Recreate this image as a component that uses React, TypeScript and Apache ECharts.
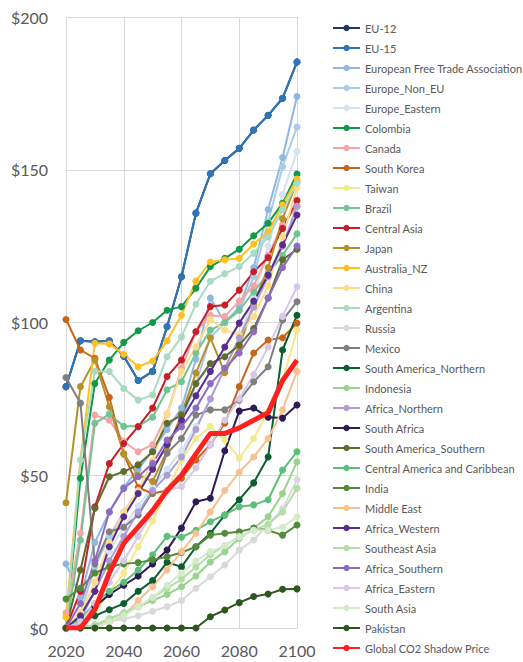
import React, { useEffect, useRef } from "react";
import * as echarts from "echarts";

const years = [2020, 2025, 2030, 2035, 2040, 2045, 2050, 2055, 2060, 2065, 2070, 2075, 2080, 2085, 2090, 2095, 2100];

const names = [
  "EU-12", "EU-15", "European Free Trade Association", "Europe_Non_EU", "Europe_Eastern",
  "Colombia", "Canada", "South Korea", "Taiwan", "Brazil", "Central Asia", "Japan",
  "Australia_NZ", "China", "Argentina", "Russia", "Mexico", "South America_Northern",
  "Indonesia", "Africa_Northern", "South Africa", "South America_Southern",
  "Central America and Caribbean", "India", "Middle East", "Africa_Western",
  "Southeast Asia", "Africa_Southern", "Africa_Eastern", "South Asia", "Pakistan",
  "Global CO2 Shadow Price",
];

const colors = [
  "#1F3864", "#2E75B6", "#8FB8E0", "#A9CBEA", "#D2E3F3",
  "#0E9A48", "#F4A6A6", "#C8651B", "#F2EB8C", "#72C493", "#C81E28", "#B8902A",
  "#FFC020", "#FFDD88", "#A8DCC0", "#D9D9D9", "#7F7F7F", "#0B5E2E",
  "#99D48E", "#B09CD4", "#2D1B55", "#5F6B2F",
  "#5CBF7A", "#548B3A", "#F9C090", "#5B2C8F",
  "#B4DDA8", "#8C6BC0", "#D8C8E8", "#D4EBCB", "#2F5620",
  "#FF2020",
];

const eu12 = [79, 94, 93.7, 94, 89, 81, 84, 98.6, 115, 135.8, 148.7, 153, 157, 163, 167.8, 173.4, 185.3];
const eu15 = [79, 94, 93.7, 94, 89, 81, 84, 98.6, 115, 135.8, 148.7, 153, 157, 163, 167.8, 173.4, 185.3];
const efta = [21, 10, 28, 38, 46, 52, 58, 65, 72, 88, 108, 100, 105, 118, 137, 154, 174];
const europeNonEu = [0, 5, 20, 30, 38, 45, 52, 60, 68, 80, 95, 100, 104, 115, 133, 151, 164];
const europeEastern = [0, 3, 15, 25, 33, 40, 46, 52, 58, 66, 75, 85, 95, 108, 125, 142, 156];
const colombia = [0, 49, 80, 87.7, 93.5, 97.3, 100, 104, 105.2, 111.2, 118.3, 121, 124, 128.4, 132.5, 139, 148.6];
const canada = [5, 31, 69.7, 68, 61, 57.7, 60, 70, 85, 97, 102.4, 102, 107, 112, 122, 132, 138];
const southKorea = [101, 91, 88.3, 75.5, 57, 46, 44, 45, 49, 55, 60, 67, 79, 90, 94.3, 95, 99.8];
const taiwan = [0, 2, 5, 12, 18, 26.6, 35, 45, 55, 62, 66, 61.5, 55.6, 62, 71, 81, 97.5];
const brazil = [0, 28.8, 67, 70, 66, 66, 69, 78, 80.6, 90, 97.5, 100, 104, 110, 116, 122, 129];
const centralAsia = [0, 12, 39.7, 53.8, 60.4, 65.9, 72, 82.3, 87.7, 97, 105.2, 105.7, 110.6, 116.6, 121.3, 130.8, 139.9];
const japan = [41, 79, 87.7, 72.4, 57, 50, 48, 58, 70, 83.5, 95, 83.6, 92, 106, 118, 134, 146];
const australiaNz = [3.5, 55, 93.2, 93, 89.6, 85.5, 87.4, 94, 102.4, 113.6, 119.8, 120.5, 121, 125.7, 129.7, 138.5, 147];
const china = [0, 5, 15, 28, 38, 45, 55, 70, 84, 92, 101, 97.5, 96, 102, 112, 128, 144];
const argentina = [0, 55, 84, 84, 78.4, 74.6, 76.3, 88.8, 95.3, 106, 113.5, 116, 118.3, 122.7, 128, 137, 145.6];
const russia = [0, 0, 1, 2, 3, 4, 5.5, 7, 9, 13, 16.8, 20.6, 25.5, 28.8, 34, 39, 48.5];
const mexico = [82, 73.6, 21, 31.5, 33, 37, 44.6, 57.2, 62, 69.7, 71.4, 71.4, 74.6, 80.6, 85.5, 100.8, 106.8];
const saNorthern = [0, 2, 4, 6, 8, 12, 15.5, 21.5, 20, 26.6, 31, 37, 42, 47.5, 56, 91, 102.4];
const indonesia = [0, 0, 1, 3, 5, 7, 9, 11, 13.5, 17, 21.6, 25, 29.3, 32.6, 36.4, 44, 54.4];
const africaNorthern = [0, 3, 12, 22, 30, 38, 45, 50, 56, 65, 75, 85, 95, 105, 115, 125, 138];
const southAfrica = [0, 3, 7, 11, 14, 17, 21, 25.5, 32.7, 41.3, 42.5, 58, 71, 72, 69, 68.7, 73];
const saSouthern = [0, 19, 39.2, 49.5, 51.2, 53.4, 57.7, 67, 69.7, 80, 86.6, 88.8, 92.6, 98, 108, 120.5, 124];
const cac = [0, 3, 8, 12, 15, 19, 24, 30, 29.7, 32, 34.8, 37, 39.7, 40.3, 42, 51.7, 57.7];
const india = [9.5, 13, 18, 20, 21, 21.4, 22.3, 23.3, 24.7, 26.6, 30.4, 31, 31.5, 32.7, 32, 30.4, 33.7];
const middleEast = [0, 0, 1, 2, 4, 9, 13.5, 19, 25, 31, 38, 45, 51, 56, 62, 71.4, 84];
const africaWestern = [0, 4, 12, 26.6, 36.4, 44, 52, 60, 68, 76, 84, 92, 99.8, 107, 115.5, 125.4, 135.2];
const southeastAsia = [0, 0, 1, 3, 5, 7, 10, 13, 16, 20, 24, 27, 30, 32, 34, 38, 45.7];
const africaSouthern = [0, 8, 22, 38, 45.7, 49.5, 53.9, 61.5, 65.9, 72, 80, 85, 90, 97, 108, 118, 125];
const africaEastern = [0, 2, 8, 15, 22, 30, 38, 45, 46.3, 52.4, 60, 68, 75, 83, 92, 102, 111.7];
const southAsia = [0, 0, 0, 2, 4, 7, 10, 14, 18, 22, 25, 27, 29.8, 32, 32, 33, 36.4];
const pakistan = [0, 0, 0, 0, 0, 0, 0, 0, 0, 0, 3.7, 5.9, 8.3, 10.3, 11.1, 12.7, 12.8];
const globalPrice = [0, 0, 6, 18, 27.8, 33, 38.5, 45, 50, 57, 63.7, 63.7, 65.5, 68, 70.5, 81, 87.7];

const values = [
  eu12, eu15, efta, europeNonEu, europeEastern, colombia, canada, southKorea, taiwan,
  brazil, centralAsia, japan, australiaNz, china, argentina, russia, mexico, saNorthern,
  indonesia, africaNorthern, southAfrica, saSouthern, cac, india, middleEast,
  africaWestern, southeastAsia, africaSouthern, africaEastern, southAsia, pakistan,
  globalPrice,
];

const yTicks = [0, 50, 100, 150, 200];
const xTicks = [2020, 2040, 2060, 2080, 2100];

export default function App() {
  const ref = useRef<HTMLDivElement>(null);
  useEffect(() => {
    if (!ref.current) return;
    const chart = echarts.init(ref.current, null, { renderer: "svg" });
    const font = "Lato, 'Open Sans', sans-serif";
    const series = names.map((name, i) => {
      const isGlobal = name === "Global CO2 Shadow Price";
      return {
        name,
        type: "line",
        data: years.map((y, j) => [y, values[i][j]]),
        symbol: isGlobal ? "none" : "circle",
        symbolSize: 7,
        showSymbol: !isGlobal,
        lineStyle: { width: isGlobal ? 5 : 2, color: colors[i] },
        itemStyle: { color: colors[i] },
        emphasis: { disabled: true },
        z: isGlobal ? 5 : 2,
      };
    });
    chart.setOption({
      animation: false,
      textStyle: { fontFamily: font },
      grid: { left: 66, right: 226, top: 17, bottom: 34, containLabel: false },
      xAxis: {
        type: "value",
        min: xTicks[0],
        max: xTicks[xTicks.length - 1],
        interval: 20,
        axisLine: { show: true, lineStyle: { color: "#D9D9D9" } },
        axisTick: { show: false },
        splitLine: { show: true, lineStyle: { color: "#D9D9D9", width: 1 } },
        axisLabel: { color: "#595959", fontSize: 16, fontFamily: font, margin: 14, formatter: (v: number) => String(v) },
      },
      yAxis: {
        type: "value",
        min: yTicks[0],
        max: yTicks[yTicks.length - 1],
        interval: 50,
        axisLine: { show: false },
        axisTick: { show: false },
        splitLine: { show: true, lineStyle: { color: "#D9D9D9", width: 1 } },
        axisLabel: { color: "#595959", fontSize: 16, fontFamily: font, margin: 18, formatter: (v: number) => "$" + v },
      },
      legend: {
        orient: "vertical",
        left: 327,
        top: 16,
        itemWidth: 27,
        itemHeight: 8,
        itemGap: 6,
        textStyle: { color: "#595959", fontSize: 11, fontFamily: font, lineHeight: 14, height: 14 },
        data: names,
      },
      series,
    });
    return () => chart.dispose();
  }, []);
  return <div ref={ref} style={{ width: 523, height: 662, position: "absolute", left: 0, top: 0, background: "#fff" }} />;
}
